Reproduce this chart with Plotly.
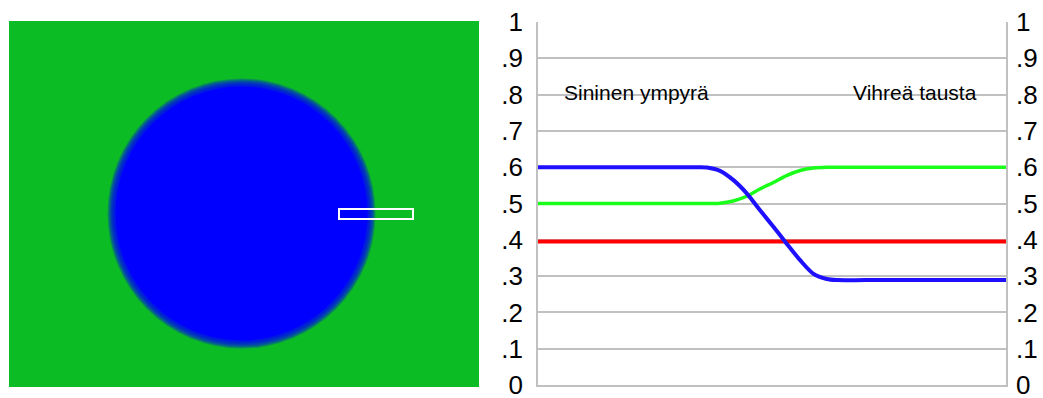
import plotly.graph_objects as go

# ---- data ----
tick_vals = [0, 0.1, 0.2, 0.3, 0.4, 0.5, 0.6, 0.7, 0.8, 0.9, 1.0]
tick_text = ["0", ".1", ".2", ".3", ".4", ".5", ".6", ".7", ".8", ".9", "1"]

blue_x = [0, 15, 30, 34.6, 36.1, 38.9, 41.7, 44.6, 47.4, 50.3, 53.1, 56.0, 58.8, 61.7, 63.8, 70, 85, 100]
blue_y = [0.6, 0.6, 0.6, 0.6, 0.599, 0.59, 0.565, 0.528, 0.482, 0.436, 0.39, 0.344, 0.307, 0.292, 0.289, 0.289, 0.289, 0.289]

green_x = [0, 15, 30, 34.6, 38.9, 41.7, 44.6, 47.4, 50.3, 53.1, 56.0, 58.8, 61.7, 65, 75, 100]
green_y = [0.5, 0.5, 0.5, 0.5, 0.501, 0.507, 0.52, 0.54, 0.558, 0.577, 0.591, 0.598, 0.6, 0.6, 0.6, 0.6]

red_x = [0, 100]
red_y = [0.395, 0.395]

label_left = "Sininen ympyrä"
label_right = "Vihreä tausta"

# illustration (left panel) geometry in its own axis units (pixels of panel)
panel_w, panel_h = 470, 366
circle_cx, circle_cy, circle_rx, circle_ry = 232.5, 192.5, 130, 131
probe_x0, probe_x1, probe_y0, probe_y1 = 330, 404, 188, 198

W, H = 1043, 398
FONT = "Liberation Sans, Arial, sans-serif"

fig = go.Figure()

fig.add_trace(go.Scatter(x=red_x, y=red_y, mode="lines",
                         line=dict(color="#ff0000", width=4), xaxis="x", yaxis="y"))
fig.add_trace(go.Scatter(x=green_x, y=green_y, mode="lines", line_shape="spline",
                         line=dict(color="#1aff1a", width=3.5, smoothing=0.8),
                         xaxis="x", yaxis="y"))
fig.add_trace(go.Scatter(x=blue_x, y=blue_y, mode="lines", line_shape="spline",
                         line=dict(color="#1e0fff", width=4, smoothing=0.8),
                         xaxis="x", yaxis="y"))
# dummy for the right-side axis
fig.add_trace(go.Scatter(x=[0], y=[0], mode="markers", marker=dict(opacity=0),
                         xaxis="x", yaxis="y3", hoverinfo="skip"))
# dummy for left panel axes
fig.add_trace(go.Scatter(x=[0], y=[0], mode="markers", marker=dict(opacity=0),
                         xaxis="x2", yaxis="y2", hoverinfo="skip"))

shapes = []
# green background
shapes.append(dict(type="rect", xref="x2", yref="y2", x0=0, x1=panel_w, y0=0, y1=panel_h,
                   fillcolor="#0cbc24", line=dict(width=0), layer="below"))
# soft-edged blue circle
n = 8
for i in range(n):
    d = 4 - i
    shapes.append(dict(type="circle", xref="x2", yref="y2",
                       x0=circle_cx - circle_rx - d, x1=circle_cx + circle_rx + d,
                       y0=circle_cy - circle_ry - d, y1=circle_cy + circle_ry + d,
                       fillcolor="rgba(0,0,255,0.22)", line=dict(width=0), layer="below"))
shapes.append(dict(type="circle", xref="x2", yref="y2",
                   x0=circle_cx - circle_rx + 4, x1=circle_cx + circle_rx - 4,
                   y0=circle_cy - circle_ry + 4, y1=circle_cy + circle_ry - 4,
                   fillcolor="#0000ff", line=dict(width=0), layer="below"))
# probe rectangle
shapes.append(dict(type="rect", xref="x2", yref="y2",
                   x0=probe_x0, x1=probe_x1, y0=probe_y0, y1=probe_y1,
                   fillcolor="rgba(0,0,0,0)", line=dict(color="white", width=2)))

fig.update_layout(
    template="none",
    width=W, height=H, autosize=False,
    margin=dict(l=0, r=0, t=0, b=0, pad=0),
    paper_bgcolor="white", plot_bgcolor="white",
    showlegend=False,
    font=dict(family=FONT, color="black"),
    shapes=shapes,
    xaxis=dict(domain=[538 / W, 1006 / W], range=[0, 100], showticklabels=False,
               showgrid=False, zeroline=False, showline=True, linecolor="#c0c0c0",
               linewidth=1.5, ticks="", mirror=False, automargin=False, anchor="y"),
    yaxis=dict(range=[0, 1], tickvals=tick_vals, ticktext=tick_text,
               domain=[(H - 385) / H, (H - 22) / H], anchor="x",
               showgrid=True, gridcolor="#c0c0c0", gridwidth=1.5, zeroline=False,
               showline=True, linecolor="#c0c0c0", linewidth=1.5,
               ticks="outside", ticklen=8, tickcolor="rgba(0,0,0,0)", automargin=False,
               ticklabeloverflow="allow",
               tickfont=dict(size=26, family=FONT, color="black")),
    yaxis3=dict(range=[0, 1], tickvals=tick_vals, ticktext=tick_text,
                overlaying="y", side="right", anchor="x",
                showgrid=False, zeroline=False,
                showline=True, linecolor="#c0c0c0", linewidth=1.5,
                ticks="outside", ticklen=3, tickcolor="rgba(0,0,0,0)", automargin=False,
                ticklabeloverflow="allow",
                tickfont=dict(size=26, family=FONT, color="black")),
    xaxis2=dict(domain=[9 / W, 479 / W], range=[0, panel_w], visible=False, anchor="y2",
                automargin=False),
    yaxis2=dict(domain=[(H - 387) / H, (H - 21) / H], range=[panel_h, 0], visible=False,
                anchor="x2", automargin=False),
    annotations=[
        dict(x=5.1, y=0.807, xref="x", yref="y", text=label_left, showarrow=False,
             xanchor="left", yanchor="middle", font=dict(size=21, family=FONT)),
        dict(x=94.2, y=0.807, xref="x", yref="y", text=label_right, showarrow=False,
             xanchor="right", yanchor="middle", font=dict(size=21, family=FONT)),
    ],
)

fig.write_html("out.html", config={"displayModeBar": False},
               post_script="document.body.style.margin='0px';")
